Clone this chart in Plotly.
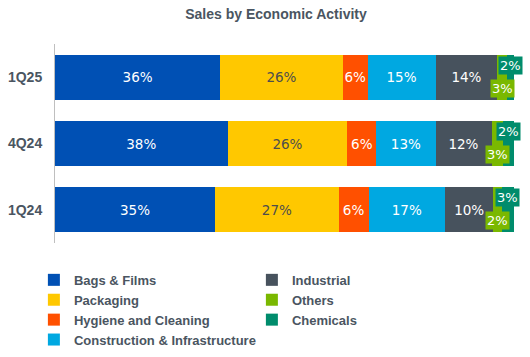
import plotly.graph_objects as go

periods = ["1Q25", "4Q24", "1Q24"]
series = ["Bags & Films", "Packaging", "Hygiene and Cleaning",
          "Construction & Infrastructure", "Industrial", "Others", "Chemicals"]
# shares (per period: 1Q25, 4Q24, 1Q24)
bags = [36.0, 37.6, 34.9]
packaging = [26.7, 26.1, 26.9]
hygiene = [5.4, 6.3, 6.5]
construction = [14.8, 12.9, 16.7]
industrial = [13.5, 12.2, 10.5]
others = [2.0, 2.4, 1.8]
chemicals = [1.6, 2.5, 2.7]
# printed labels
bags_lbl = ["36%", "38%", "35%"]
packaging_lbl = ["26%", "26%", "27%"]
hygiene_lbl = ["6%", "6%", "6%"]
construction_lbl = ["15%", "13%", "17%"]
industrial_lbl = ["14%", "12%", "10%"]
others_lbl = ["3%", "3%", "2%"]
chemicals_lbl = ["2%", "2%", "3%"]

values = [bags, packaging, hygiene, construction, industrial, others, chemicals]
labels = [bags_lbl, packaging_lbl, hygiene_lbl, construction_lbl,
          industrial_lbl, others_lbl, chemicals_lbl]
colors = ["#0050B4", "#FFC800", "#FF5000", "#00A8E1", "#47525D", "#7AB800", "#008C6C"]
text_colors = ["white", "#4D4D4D", "white", "white", "white", "white", "white"]
ranks = [1, 3, 5, 7, 2, 4, 6]
inside = [True, True, True, True, True, False, False]

fig = go.Figure()
for name, v, lbl, c, tc, rk, ins in zip(series, values, labels, colors, text_colors, ranks, inside):
    fig.add_trace(go.Bar(
        y=periods, x=v, name=name, orientation="h",
        marker=dict(color=c, line=dict(width=0)),
        text=lbl if ins else None,
        textposition="inside" if ins else "none",
        insidetextanchor="middle", textangle=0, constraintext="none",
        textfont=dict(family="DejaVu Sans", size=13.5, color=tc),
        legendrank=rk, hoverinfo="skip",
    ))

# outside small labels for Others (below) and Chemicals (above)
for i, p in enumerate(periods):
    base = bags[i] + packaging[i] + hygiene[i] + construction[i] + industrial[i]
    fig.add_annotation(x=base + others[i] / 2, y=p, xref="x", yref="y",
                       text=others_lbl[i], showarrow=False, yshift=-11,
                       bgcolor=colors[5], borderpad=1,
                       font=dict(family="DejaVu Sans", size=13, color="white"))
    fig.add_annotation(x=base + others[i] + chemicals[i] / 2, y=p, xref="x", yref="y",
                       text=chemicals_lbl[i], showarrow=False, yshift=12,
                       bgcolor=colors[6], borderpad=1,
                       font=dict(family="DejaVu Sans", size=13, color="white"))

fig.update_layout(
    width=530, height=357,
    barmode="stack", bargap=0.32,
    margin=dict(l=55, r=16, t=44, b=114, autoexpand=False),
    paper_bgcolor="white", plot_bgcolor="white",
    title=dict(text="<b>Sales by Economic Activity</b>", x=276 / 530, xanchor="center",
               y=1 - 14 / 357, yanchor="middle",
               font=dict(family="Liberation Sans", size=14, color="#4A5561")),
    xaxis=dict(range=[0, 100], visible=False, fixedrange=True),
    yaxis=dict(autorange="reversed", showline=True, linecolor="#BFBFBF", linewidth=1,
               ticks="", ticklabelstandoff=9, automargin=False, fixedrange=True,
               tickfont=dict(family="Liberation Sans", size=14, color="#4A5561", weight="bold"),
               showgrid=False, zeroline=False),
    legend=dict(orientation="h", x=-0.046, xanchor="left", y=-0.11, yanchor="top",
                traceorder="normal", entrywidth=173,
                font=dict(family="Liberation Sans", size=13, color="#4A5561", weight="bold"),
                bgcolor="rgba(0,0,0,0)"),
    showlegend=True,
)

fig.write_html("out.html", config={"displayModeBar": False},
               post_script="document.body.style.margin='0';document.body.style.padding='0';")
